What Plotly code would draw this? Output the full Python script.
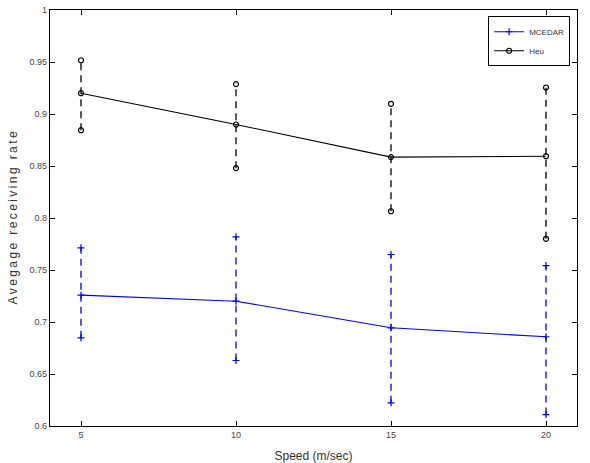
import plotly.graph_objects as go

speed = [5, 10, 15, 20]
mcedar_mean = [0.7258, 0.7200, 0.6944, 0.6858]
mcedar_upper = [0.7713, 0.7819, 0.7649, 0.7543]
mcedar_lower = [0.6848, 0.6630, 0.6223, 0.6110]
heu_mean = [0.9200, 0.8899, 0.8585, 0.8594]
heu_upper = [0.9517, 0.9287, 0.9098, 0.9255]
heu_lower = [0.8844, 0.8479, 0.8065, 0.7800]

y_ticks = [0.6, 0.65, 0.7, 0.75, 0.8, 0.85, 0.9, 0.95, 1]
x_ticks = [5, 10, 15, 20]

BLUE = "#0000ff"
BLACK = "#000000"

fig = go.Figure()


def add_series(name, mean, upper, lower, color, symbol, msize):
    ex, ey = [], []
    for x, lo, hi in zip(speed, lower, upper):
        ex += [x, x, None]
        ey += [lo, hi, None]
    fig.add_trace(go.Scatter(x=ex, y=ey, mode="lines",
                             line=dict(color=color, width=1.3, dash="7px,5px"),
                             showlegend=False, hoverinfo="skip"))
    fig.add_trace(go.Scatter(x=speed + speed, y=upper + lower, mode="markers",
                             marker=dict(symbol=symbol, size=msize, color=color,
                                         line=dict(color=color, width=1.2)),
                             showlegend=False, hoverinfo="skip"))
    fig.add_trace(go.Scatter(x=speed, y=mean, mode="lines+markers", name=name,
                             line=dict(color=color, width=1.1),
                             marker=dict(symbol=symbol, size=msize, color=color,
                                         line=dict(color=color, width=1.2))))


add_series("MCEDAR", mcedar_mean, mcedar_upper, mcedar_lower, BLUE, "cross-thin", 5)
add_series("Heu", heu_mean, heu_upper, heu_lower, BLACK, "circle-open", 5)

axis_common = dict(showline=True, linecolor="black", linewidth=1.2, mirror="ticks",
                   ticks="inside", ticklen=5, tickcolor="black", showgrid=False,
                   zeroline=False, automargin=False,
                   tickfont=dict(family="Liberation Sans, Arial", size=9, color="#444"))

y_title = "\u2009".join("Avegage receiving rate")

fig.update_xaxes(range=[4, 21], tickvals=x_ticks, **axis_common,
                 title=dict(text="Speed (m/sec)", standoff=12,
                            font=dict(family="Liberation Sans, Arial", size=12, color="#333")))
fig.update_yaxes(range=[0.6, 1], tickvals=y_ticks, **axis_common,
                 title=dict(text=y_title, standoff=9,
                            font=dict(family="Liberation Sans, Arial", size=12, color="#333")))

fig.update_layout(
    width=590, height=463,
    margin=dict(l=50, r=13, t=10, b=37),
    plot_bgcolor="white", paper_bgcolor="white",
    legend=dict(x=0.987, y=0.985, xanchor="right", yanchor="top",
                bordercolor="black", borderwidth=1, bgcolor="white",
                font=dict(family="Liberation Sans, Arial", size=8, color="#333"),
                itemwidth=30, tracegroupgap=0),
)

fig.write_html("out.html")
